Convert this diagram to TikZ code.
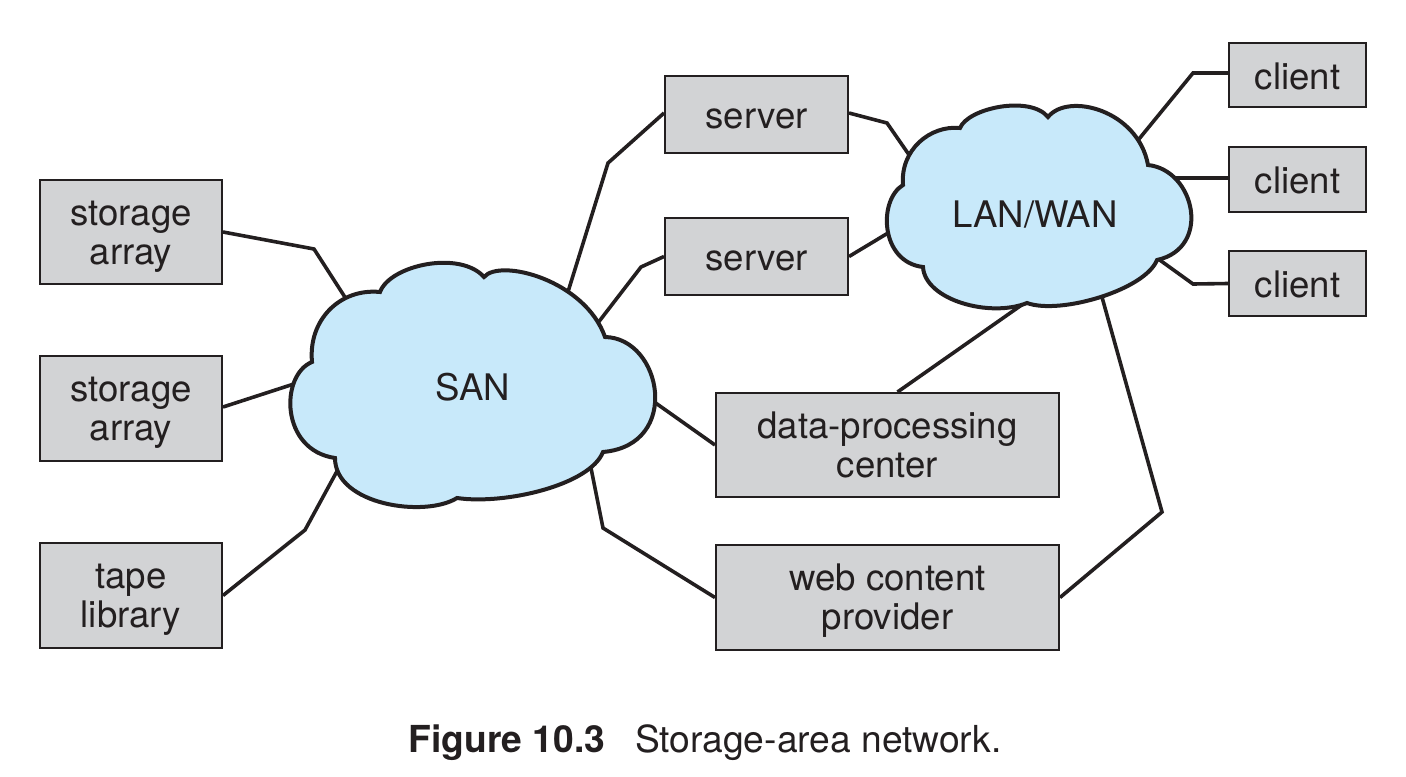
\documentclass[tikz,border=0pt]{standalone}
\usepackage{fontspec}
\setmainfont{TeX Gyre Heros}
\definecolor{boxgray}{RGB}{210,211,213}
\definecolor{cloudblue}{RGB}{200,233,250}
\definecolor{ink}{RGB}{35,31,32}
\begin{document}
\begin{tikzpicture}[x=0.5pt,y=-0.5pt,
  box/.style={draw=ink, line width=1pt, fill=boxgray, inner sep=0pt, align=center,
    font=\fontsize{18.3}{19.5}\selectfont, text=ink, text height=14pt, text depth=0pt},
  twoline/.style={text height=35pt, text depth=3pt},
  wire/.style={draw=ink, line width=1.8pt, line join=miter},
  cloudshape/.style={draw=ink, fill=cloudblue, line width=2pt, line join=miter},
  cloudlabel/.style={font=\fontsize{18.3}{20}\selectfont, text=ink, inner sep=0pt}]
\useasboundingbox (0,0) rectangle (1406,776);

% boxes
\node[box, twoline, minimum width=91pt, minimum height=52pt] (sa1) at (131,232) {storage\\array};
\node[box, twoline, minimum width=91pt, minimum height=52.5pt] (sa2) at (131,408.5) {storage\\array};
\node[box, twoline, minimum width=91pt, minimum height=52.5pt] (tape) at (131,595.5) {tape\\library};
\node[box, minimum width=91.5pt, minimum height=38.5pt] (srv1) at (756.5,114.5) {server};
\node[box, minimum width=91.5pt, minimum height=38.5pt] (srv2) at (756.5,256.5) {server};
\node[box, twoline, minimum width=171.5pt, minimum height=52pt] (dpc) at (887.5,445) {data-processing\\center};
\node[box, twoline, minimum width=171.5pt, minimum height=52.5pt] (web) at (887.5,597.5) {web content\\provider};
\node[box, minimum width=68.5pt, minimum height=32pt] (cl1) at (1297.5,75) {client};
\node[box, minimum width=68.5pt, minimum height=32.5pt] (cl2) at (1297.5,179.5) {client};
\node[box, minimum width=68.5pt, minimum height=32.5pt] (cl3) at (1297.5,283.5) {client};

% attachment points inside the clouds
\coordinate (sanA) at (350,305);
\coordinate (sanB) at (300,382);
\coordinate (sanC) at (342,462);
\coordinate (sanD) at (567,295);
\coordinate (sanE) at (594,328);
\coordinate (sanF) at (650,399);
\coordinate (sanG) at (590,463);
\coordinate (lanA) at (914,162);
\coordinate (lanB) at (893,230);
\coordinate (lanC) at (1033,297);
\coordinate (lanD) at (1100,290);
\coordinate (lanE) at (1130,150);
\coordinate (lanF) at (1165,178);
\coordinate (lanG) at (1150,253);

% connectors
\draw[wire] (sa1.east) -- (314,249) -- (sanA);
\draw[wire] ([yshift=0.75pt]sa2.east) -- (sanB);
\draw[wire] (tape.east) -- (305,530) -- (sanC);
\draw[wire] ([yshift=0.75pt]srv1.west) -- (608,163) -- (sanD);
\draw[wire] (srv2.west) -- (641,267) -- (sanE);
\draw[wire] (sanF) -- (dpc.west);
\draw[wire] (sanG) -- (603,528) -- (web.west);
\draw[wire] ([yshift=0.75pt]srv1.east) -- (887,123) -- (lanA);
\draw[wire] (srv2.east) -- (lanB);
\draw[wire] ([xshift=5pt]dpc.north) -- (lanC);
\draw[wire] (web.east) -- (1162,512) -- (lanD);
\draw[wire] (lanE) -- (1193,73) -- (cl1.west |- 0,73);
\draw[wire] (lanF) -- (cl2.west |- lanF);
\draw[wire] (lanG) -- (1193,284) -- (cl3.west);

% SAN cloud
\path[cloudshape] (380,292) .. controls (390,265) and (460,250) .. (484,277)
  .. controls (500,258) and (585,280) .. (605,337)
  .. controls (662,338) and (682,445) .. (603,452)
  .. controls (590,485) and (505,505) .. (457,498)
  .. controls (425,518) and (335,505) .. (335,458)
  .. controls (280,450) and (280,375) .. (312,362)
  .. controls (308,320) and (340,288) .. cycle;
\node[cloudlabel] (san) at (473,387) {SAN};

% LAN/WAN cloud
\path[cloudshape] (960,128) .. controls (968,108) and (1030,95) .. (1048,117)
  .. controls (1068,92) and (1138,110) .. (1148,165)
  .. controls (1195,170) and (1212,248) .. (1157,260)
  .. controls (1145,290) and (1060,315) .. (1027,303)
  .. controls (990,318) and (925,300) .. (923,267)
  .. controls (880,262) and (878,200) .. (903,185)
  .. controls (900,150) and (930,125) .. cycle;
\node[cloudlabel] (lan) at (1035,215) {LAN/WAN};

% caption
\node[anchor=base, inner sep=0pt, text=ink, font=\fontsize{18.6}{20}\selectfont] (cap) at (705,752)
  {\textbf{Figure 10.3}\hspace{15pt}Storage-area network.};
\end{tikzpicture}
\end{document}
